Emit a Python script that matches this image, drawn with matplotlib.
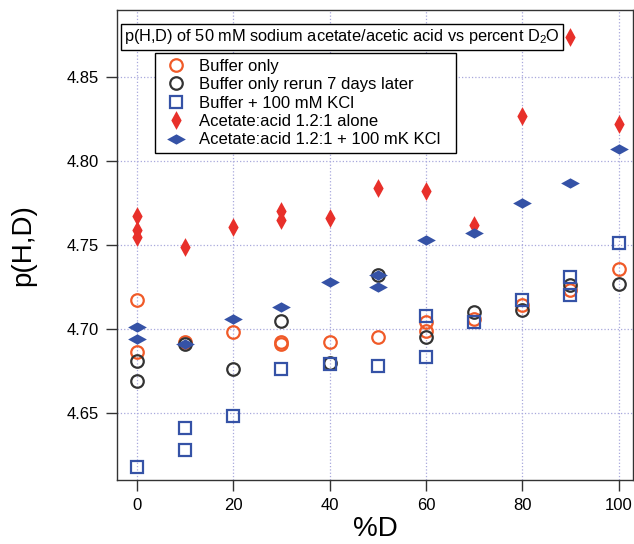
import matplotlib
matplotlib.use('Agg')
import matplotlib.pyplot as plt
from matplotlib.patches import Rectangle

plt.rcParams['font.family'] = ['Liberation Sans', 'DejaVu Sans']
plt.rcParams['mathtext.default'] = 'regular'

# Buffer only
buf_x = [0, 0, 10, 20, 30, 30, 40, 50, 60, 60, 70, 80, 90, 100]
buf_y = [4.717, 4.686, 4.692, 4.698, 4.692, 4.691, 4.692, 4.695, 4.704, 4.699, 4.706, 4.714, 4.723, 4.736]

# Buffer only rerun 7 days later
rerun_x = [0, 0, 10, 20, 30, 40, 50, 60, 70, 80, 90, 100]
rerun_y = [4.681, 4.669, 4.691, 4.676, 4.705, 4.680, 4.732, 4.695, 4.710, 4.711, 4.726, 4.727]

# Buffer + 100 mM KCl
kcl_x = [0, 10, 10, 20, 30, 40, 50, 60, 60, 70, 80, 90, 90, 100]
kcl_y = [4.618, 4.641, 4.628, 4.648, 4.676, 4.679, 4.678, 4.708, 4.683, 4.704, 4.717, 4.731, 4.720, 4.751]

# Acetate:acid 1.2:1 alone
ace_x = [0, 0, 0, 10, 20, 30, 30, 40, 50, 60, 70, 80, 90, 100]
ace_y = [4.767, 4.759, 4.755, 4.749, 4.761, 4.770, 4.765, 4.766, 4.784, 4.782, 4.762, 4.827, 4.874, 4.822]

# Acetate:acid 1.2:1 + 100 mK KCl
acek_x = [0, 0, 10, 20, 30, 40, 50, 50, 60, 70, 80, 90, 100]
acek_y = [4.701, 4.694, 4.691, 4.706, 4.713, 4.728, 4.732, 4.725, 4.753, 4.757, 4.775, 4.787, 4.807]

tall_diamond = [(0, 1), (0.55, 0), (0, -1), (-0.55, 0), (0, 1)]
wide_diamond = [(1, 0), (0, 0.55), (-1, 0), (0, -0.55), (1, 0)]

W, H = 634, 544
fig = plt.figure(figsize=(W / 100, H / 100), dpi=100)
ax = fig.add_axes([117/W, 1 - 480/H, 516/W, 470/H])

ax.plot(buf_x, buf_y, 'o', ls='none', mfc='none', mec='#F05A28', mew=1.6, ms=9, label='Buffer only')
ax.plot(rerun_x, rerun_y, 'o', ls='none', mfc='none', mec='#333333', mew=1.6, ms=9,
        label='Buffer only rerun 7 days later')
ax.plot(kcl_x, kcl_y, 's', ls='none', mfc='none', mec='#3552A6', mew=1.6, ms=8.5, label='Buffer + 100 mM KCl')
ax.plot(ace_x, ace_y, marker=tall_diamond, ls='none', color='#E8302A', mec='none', ms=13.5,
        label='Acetate:acid 1.2:1 alone')
ax.plot(acek_x, acek_y, marker=wide_diamond, ls='none', color='#3552A6', mec='none', ms=13.5,
        label='Acetate:acid 1.2:1 + 100 mK KCl')

ax.set_xlim(-4.15, 103)
ax.set_ylim(4.61, 4.89)
ax.set_xticks([0, 20, 40, 60, 80, 100])
ax.set_yticks([4.65, 4.70, 4.75, 4.80, 4.85])
ax.set_yticklabels(['4.65', '4.70', '4.75', '4.80', '4.85'])
ax.grid(True, ls=':', color='#A8A8DC', lw=0.9)
ax.set_axisbelow(True)
ax.tick_params(direction='out', length=8, width=1, color='#333333', labelsize=12, pad=5)
for s in ax.spines.values():
    s.set_color('#333333')
    s.set_linewidth(1)

ax.set_xlabel('%D', fontsize=20, labelpad=2)
ax.set_ylabel('p(H,D)', fontsize=20, labelpad=22)

ax.text(0.014, 0.963, 'p(H,D) of 50 mM sodium acetate/acetic acid vs percent D$_2$O',
        transform=ax.transAxes, fontsize=11.8, va='top', ha='left',
        bbox=dict(boxstyle='square,pad=0.2', fc='white', ec='black', lw=1))

# legend box drawn separately so its padding matches the original
ax.add_patch(Rectangle((155/W, 1 - 153/H), 301/W, 100/H, transform=fig.transFigure,
                       fc='white', ec='black', lw=1, zorder=4, clip_on=False))
leg = ax.legend(loc='upper left', bbox_to_anchor=(161/W, 1 - 54/H), bbox_transform=fig.transFigure,
                fontsize=12, frameon=False, handlelength=1.2, handletextpad=0.8,
                labelspacing=0.2, borderpad=0.3, borderaxespad=0)
leg.set_zorder(10)

fig.savefig('out.png', dpi=100)
